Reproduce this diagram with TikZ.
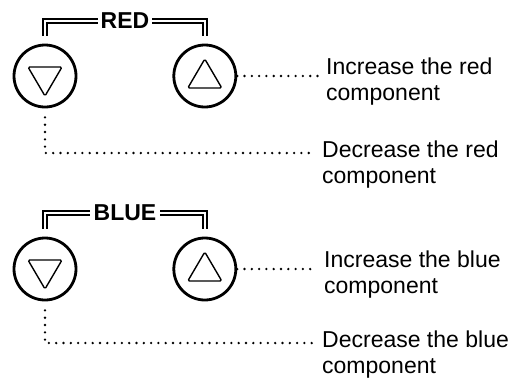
\documentclass[tikz,border=0pt]{standalone}
\usepackage{fontspec}
\setmainfont{Liberation Sans}
\usetikzlibrary{positioning}

\begin{document}
\begin{tikzpicture}[
    x=1pt, y=-1pt,
    btn/.style={draw, circle, line width=2.8pt, minimum size=62pt, inner sep=0pt},
    tri/.style={draw, line width=1.4pt, rounded corners=1.5pt, line join=round},
    grp/.style={font=\fontsize{23}{25}\selectfont\bfseries, inner sep=3pt},
    desc/.style={align=left, anchor=base west, inner xsep=7pt, inner ysep=0pt,
                 font=\fontsize{23}{25.5}\selectfont},
    dots/.style={line width=2.6pt, line cap=round, dash pattern=on 0pt off 7.3pt},
    bracket/.style={double, double distance=2.6pt, line width=1.5pt},
    node distance=95pt
  ]
    \useasboundingbox (0,0) rectangle (524,378);

    % red buttons
    \node[btn] (rdown) at (45,76) {};
    \node[btn, right=of rdown] (rup) {};
    \draw[tri, shift={(rdown.center)}] (-17,-9) -- (17,-9) -- (0,20) -- cycle;
    \draw[tri, shift={(rup.center)}] (-17,12) -- (17,12) -- (0,-17) -- cycle;
    \node[grp] (redlbl) at (125,21) {RED};
    \draw[bracket] ([yshift=8pt]rdown.north) |- (redlbl.west);
    \draw[bracket] ([yshift=8pt]rup.north) |- (redlbl.east);

    % blue buttons
    \node[btn] (bdown) at (45,269) {};
    \node[btn, right=of bdown] (bup) {};
    \draw[tri, shift={(bdown.center)}] (-17,-9) -- (17,-9) -- (0,20) -- cycle;
    \draw[tri, shift={(bup.center)}] (-17,12) -- (17,12) -- (0,-17) -- cycle;
    \node[grp] (bluelbl) at (125,213) {BLUE};
    \draw[bracket] ([yshift=8pt]bdown.north) |- (bluelbl.west);
    \draw[bracket] ([yshift=8pt]bup.north) |- (bluelbl.east);

    % descriptions (base = last line)
    \node[desc] (redinc) at (319,100) {Increase the red\\component};
    \node[desc] (reddec) at (315,183) {Decrease the red\\component};
    \node[desc] (blueinc) at (317,293) {Increase the blue\\component};
    \node[desc] (bluedec) at (315,373) {Decrease the blue\\component};

    \draw[dots] (rup.east) -- (rup.east -| redinc.west);
    \draw[dots] ([yshift=-9pt]rdown.south) |- ([yshift=30pt]reddec.base west);
    \draw[dots] (bup.east) -- (bup.east -| blueinc.west);
    \draw[dots] ([yshift=-9pt]bdown.south) |- ([yshift=30pt]bluedec.base west);
  \end{tikzpicture}
\end{document}
